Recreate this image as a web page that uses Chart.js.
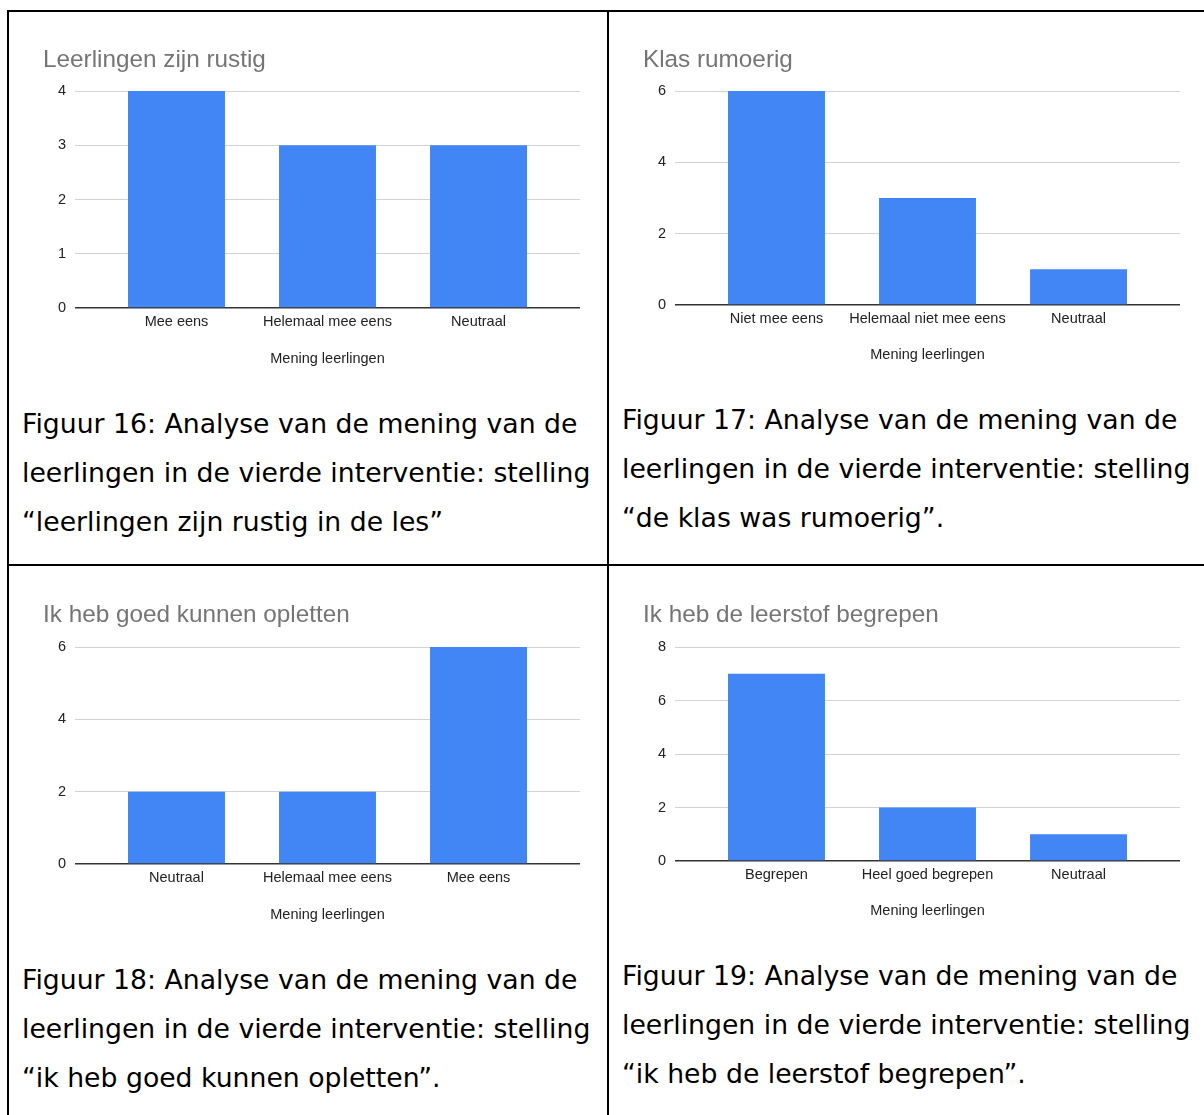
<!DOCTYPE html>
<html>
<head>
<meta charset="utf-8">
<title>Mening leerlingen – vierde interventie</title>
<script src="https://cdn.jsdelivr.net/npm/chart.js@4.4.1/dist/chart.umd.min.js"></script>
<style>
  html, body { margin: 0; padding: 0; background: #fff; }
  body { width: 1204px; height: 1115px; position: relative; overflow: hidden; }
  .rule { position: absolute; background: #000; }
  .box { position: absolute; width: 580px; height: 345px; }
  .box canvas { display: block; }
  .caption {
    position: absolute;
    font-family: "DejaVu Sans", Verdana, sans-serif;
    font-size: 26.7px;
    line-height: 49px;
    color: #000;
    white-space: nowrap;
  }
</style>
</head>
<body>

<!-- table rules -->
<div class="rule" style="left:7px; top:10px; width:1197px; height:2px;"></div>
<div class="rule" style="left:7px; top:10px; width:2px; height:1105px;"></div>
<div class="rule" style="left:607px; top:10px; width:2px; height:1105px;"></div>
<div class="rule" style="left:7px; top:564px; width:1197px; height:2px;"></div>

<div class="box" style="left:20px; top:30px;"><canvas id="c1" width="580" height="345"></canvas></div>
<div class="box" style="left:620px; top:30px;"><canvas id="c2" width="580" height="345"></canvas></div>
<div class="box" style="left:20px; top:586px;"><canvas id="c3" width="580" height="345"></canvas></div>
<div class="box" style="left:620px; top:586px;"><canvas id="c4" width="580" height="345"></canvas></div>

<div class="caption" style="left:22px; top:398.5px;">Figuur 16: Analyse van de mening van de<br>leerlingen in de vierde interventie: stelling<br>“leerlingen zijn rustig in de les”</div>
<div class="caption" style="left:622px; top:394.5px;">Figuur 17: Analyse van de mening van de<br>leerlingen in de vierde interventie: stelling<br>“de klas was rumoerig”.</div>
<div class="caption" style="left:22px; top:954.5px;">Figuur 18: Analyse van de mening van de<br>leerlingen in de vierde interventie: stelling<br>“ik heb goed kunnen opletten”.</div>
<div class="caption" style="left:622px; top:950.5px;">Figuur 19: Analyse van de mening van de<br>leerlingen in de vierde interventie: stelling<br>“ik heb de leerstof begrepen”.</div>

<script>
// ---- data ----
const axisTitle = 'Mening leerlingen';

const titleRustig = 'Leerlingen zijn rustig';
const labelsRustig = ['Mee eens', 'Helemaal mee eens', 'Neutraal'];
const valuesRustig = [4, 3, 3];
const ticksRustig = [0, 1, 2, 3, 4];

const titleRumoerig = 'Klas rumoerig';
const labelsRumoerig = ['Niet mee eens', 'Helemaal niet mee eens', 'Neutraal'];
const valuesRumoerig = [6, 3, 1];
const ticksRumoerig = [0, 2, 4, 6];

const titleOpletten = 'Ik heb goed kunnen opletten';
const labelsOpletten = ['Neutraal', 'Helemaal mee eens', 'Mee eens'];
const valuesOpletten = [2, 2, 6];
const ticksOpletten = [0, 2, 4, 6];

const titleBegrepen = 'Ik heb de leerstof begrepen';
const labelsBegrepen = ['Begrepen', 'Heel goed begrepen', 'Neutraal'];
const valuesBegrepen = [7, 2, 1];
const ticksBegrepen = [0, 2, 4, 6, 8];

// ---- styling ----
Chart.defaults.font.family = '"Liberation Sans", Arial, sans-serif';
const BAR_BLUE = '#4285F4';
const TITLE_GREY = '#757575';
const TEXT_DARK = '#222222';
const GRID_GREY = '#d3d3d3';
const BASELINE = '#333333';
const TITLE_SIZE = 24.3;
const LABEL_SIZE = 14.5;
const EDGE = 0.672;          // extra room left/right of the outer bars, in category units

function barChart(canvasId, title, labels, values, yTicks, frame) {
  const canvas = document.getElementById(canvasId);
  const top = canvas.parentElement.offsetTop;
  const h = canvas.height;
  const titleLine = TITLE_SIZE * 1.2;
  const titlePadTop = frame.titleY - top - titleLine / 2;
  const titlePadBottom = frame.plotTop - top - titlePadTop - titleLine;
  const padBottom = h - (frame.plotBottom - top) - frame.axisHeight;

  return new Chart(canvas, {
    type: 'bar',
    data: {
      datasets: [{
        data: values.map((v, i) => ({ x: i, y: v })),
        backgroundColor: BAR_BLUE,
        borderWidth: 0,
        categoryPercentage: 1,
        barPercentage: 0.642
      }]
    },
    options: {
      responsive: false,
      animation: false,
      devicePixelRatio: 1,
      layout: { padding: { left: 23, right: 20, top: 0, bottom: padBottom } },
      plugins: {
        legend: { display: false },
        tooltip: { enabled: false },
        title: {
          display: true,
          text: title,
          align: 'start',
          color: TITLE_GREY,
          font: { size: TITLE_SIZE, weight: 'normal' },
          padding: { top: titlePadTop, bottom: titlePadBottom }
        }
      },
      scales: {
        x: {
          type: 'linear',
          offset: false,
          min: -EDGE,
          max: labels.length - 1 + EDGE,
          afterBuildTicks: s => { s.ticks = labels.map((_, i) => ({ value: i })); },
          afterFit: s => { s.height = frame.axisHeight; },
          ticks: {
            callback: v => labels[v],
            color: TEXT_DARK,
            font: { size: LABEL_SIZE },
            padding: 5,
            maxRotation: 0,
            autoSkip: false
          },
          grid: { display: false, drawTicks: false },
          border: { display: false },
          title: {
            display: true,
            text: axisTitle,
            color: TEXT_DARK,
            font: { size: LABEL_SIZE },
            padding: { top: 0, bottom: 0 }
          }
        },
        y: {
          min: 0,
          max: yTicks[yTicks.length - 1],
          afterBuildTicks: s => { s.ticks = yTicks.map(v => ({ value: v })); },
          afterFit: s => { s.width = 32; },
          ticks: {
            color: TEXT_DARK,
            font: { size: LABEL_SIZE },
            padding: 9
          },
          grid: {
            drawTicks: false,
            color: c => (c.tick && c.tick.value === 0) ? BASELINE : GRID_GREY,
            lineWidth: c => (c.tick && c.tick.value === 0) ? 1.4 : 1
          },
          border: { display: false }
        }
      }
    }
  });
}

barChart('c1', titleRustig, labelsRustig, valuesRustig, ticksRustig,
  { titleY: 60, plotTop: 91, plotBottom: 308, axisHeight: 60 });
barChart('c2', titleRumoerig, labelsRumoerig, valuesRumoerig, ticksRumoerig,
  { titleY: 60, plotTop: 91, plotBottom: 305, axisHeight: 59 });
barChart('c3', titleOpletten, labelsOpletten, valuesOpletten, ticksOpletten,
  { titleY: 615, plotTop: 647, plotBottom: 864, axisHeight: 60 });
barChart('c4', titleBegrepen, labelsBegrepen, valuesBegrepen, ticksBegrepen,
  { titleY: 615, plotTop: 647, plotBottom: 861, axisHeight: 59 });
</script>
</body>
</html>
